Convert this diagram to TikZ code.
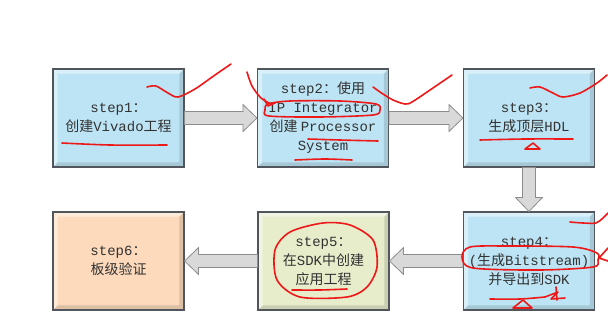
\documentclass[tikz,border=0pt]{standalone}
\usepackage{fontspec}
\setmainfont{Noto Sans CJK SC}
\newfontfamily\lat{Liberation Mono}
\usetikzlibrary{calc}

\definecolor{boxblue}{RGB}{189,228,244}
\definecolor{boxpeach}{RGB}{252,218,187}
\definecolor{boxgreen}{RGB}{231,236,203}
\definecolor{boxline}{RGB}{80,86,92}
\definecolor{textgray}{RGB}{50,50,50}
\definecolor{arrowfill}{RGB}{217,217,217}
\definecolor{arrowline}{RGB}{140,140,140}
\definecolor{penred}{RGB}{238,24,24}

\begin{document}
\begin{tikzpicture}[x=0.75pt, y=-0.75pt, >=stealth,
    stepbox/.style={draw=boxline, fill=#1, line width=0.8pt, minimum width=98.25pt,
        minimum height=73.5pt, align=center, text=textgray, inner sep=0pt,
        font=\fontsize{10.5pt}{14.25pt}\selectfont,
        path picture={
            \fill[white, opacity=0.45] (path picture bounding box.north west)
                -- (path picture bounding box.north east)
                -- ([shift={(-3.5pt,-3.5pt)}]path picture bounding box.north east)
                -- ([shift={(3.5pt,-3.5pt)}]path picture bounding box.north west)
                -- ([shift={(3.5pt,3.5pt)}]path picture bounding box.south west)
                -- (path picture bounding box.south west) -- cycle;
            \fill[black, opacity=0.12] (path picture bounding box.south east)
                -- (path picture bounding box.north east)
                -- ([shift={(-3.5pt,-3.5pt)}]path picture bounding box.north east)
                -- ([shift={(-3.5pt,3.5pt)}]path picture bounding box.south east)
                -- ([shift={(3.5pt,3.5pt)}]path picture bounding box.south west)
                -- (path picture bounding box.south west) -- cycle;
        }},
    blockarrow/.style={draw=arrowline, fill=arrowfill, line width=0.6pt, line join=miter,
        to path={
            ($(\tikztotarget)!10.5pt!(\tikztostart)$) coordinate (hb)
            ($(\tikztostart)!4.9pt!90:(\tikztotarget)$)
            -- ($(hb)!4.9pt!90:(\tikztotarget)$)
            -- ($(hb)!10.1pt!90:(\tikztotarget)$)
            -- (\tikztotarget)
            -- ($(hb)!10.1pt!-90:(\tikztotarget)$)
            -- ($(hb)!4.9pt!-90:(\tikztotarget)$)
            -- ($(\tikztostart)!4.9pt!-90:(\tikztotarget)$) -- cycle}},
    scribble/.style={draw=penred, line width=1.2pt, line cap=round, line join=round}]

    \useasboundingbox (0,0) rectangle (608,311);

    % cac buoc
    \node[stepbox=boxblue] (s1) at (118.5,118) {{\lat step1}：\\创建{\lat Vivado}工程};
    \node[stepbox=boxblue] (s2) at (323,118) {{\lat step2}：使用\\{\lat IP Integrator}\\创建 {\lat Processor}\\{\lat System}};
    \node[stepbox=boxblue] (s3) at (529,118) {{\lat step3}：\\生成顶层{\lat HDL}};
    \node[stepbox=boxblue] (s4) at (529,261) {{\lat step4}：\\{\lat (}生成{\lat Bitstream)}\\并导出到{\lat SDK}};
    \node[stepbox=boxgreen] (s5) at (323.5,261) {{\lat step5}：\\在{\lat SDK}中创建\\应用工程};
    \node[stepbox=boxpeach] (s6) at (118.5,261) {{\lat step6}：\\板级验证};

    % mui ten
    \draw[blockarrow] (s1.east) to (s2.west);
    \draw[blockarrow] (s2.east) to (s3.west);
    \draw[blockarrow] (s3.south) to (s4.north);
    \draw[blockarrow] (s4.west) to (s5.east);
    \draw[blockarrow] (s5.west) to (s6.east);

    % net ve tay
    \draw[scribble] plot[smooth] coordinates {(62,143) (110,145) (167,145)};
    \draw[scribble] plot[smooth] coordinates {(147,87) (156,86) (168,93) (178,97) (195,89) (215,75) (231,64)};
    \draw[scribble] plot[smooth] coordinates {(247,72) (252,86) (261,98) (271,104)};
    \draw[scribble] (264,99) -- (268,106) -- (275,103);
    \draw[scribble] plot[smooth cycle] coordinates {(268,104) (265,110) (269,116) (320,117) (373,115) (380,110) (376,104) (340,101) (290,101)};
    \draw[scribble] plot[smooth] coordinates {(308,139) (340,140) (378,141)};
    \draw[scribble] plot[smooth] coordinates {(295,160) (325,159) (352,160)};
    \draw[scribble] plot[smooth] coordinates {(373,87) (383,94) (393,100) (405,104) (412,102) (430,90) (452,75)};
    \draw[scribble] plot[smooth] coordinates {(530,88) (540,87) (553,93) (563,97) (580,93) (597,83) (607,75)};
    \draw[scribble] plot[smooth] coordinates {(480,140) (525,139) (573,139)};
    \draw[scribble] (525,149) -- (533,143) -- (540,149) -- cycle;
    \draw[scribble] plot[smooth] coordinates {(570,222) (583,223) (596,223) (603,218) (608,213)};
    \draw[scribble] plot[smooth cycle] coordinates {(597,253) (573,247) (507,246) (470,247) (462,257) (473,268) (540,270) (593,267) (598,260)};
    \draw[scribble] (608,248) -- (599,258) -- (608,261);
    \draw[scribble] plot[smooth] coordinates {(490,299) (520,299) (545,297)};
    \draw[scribble] (545,297) -- (558,292) -- (551,299) -- (565,298);
    \draw[scribble] (556,287) -- (557,300);
    \draw[scribble] (513,308) -- (523,300) -- (532,308) -- cycle;
    \draw[scribble] plot[smooth cycle] coordinates {(350,225) (373,240) (377,267) (367,287) (347,297) (300,297) (277,280) (275,250) (290,232) (323,223)};
    \draw[scribble] plot[smooth] coordinates {(292,290) (320,290) (347,289)};
\end{tikzpicture}
\end{document}
